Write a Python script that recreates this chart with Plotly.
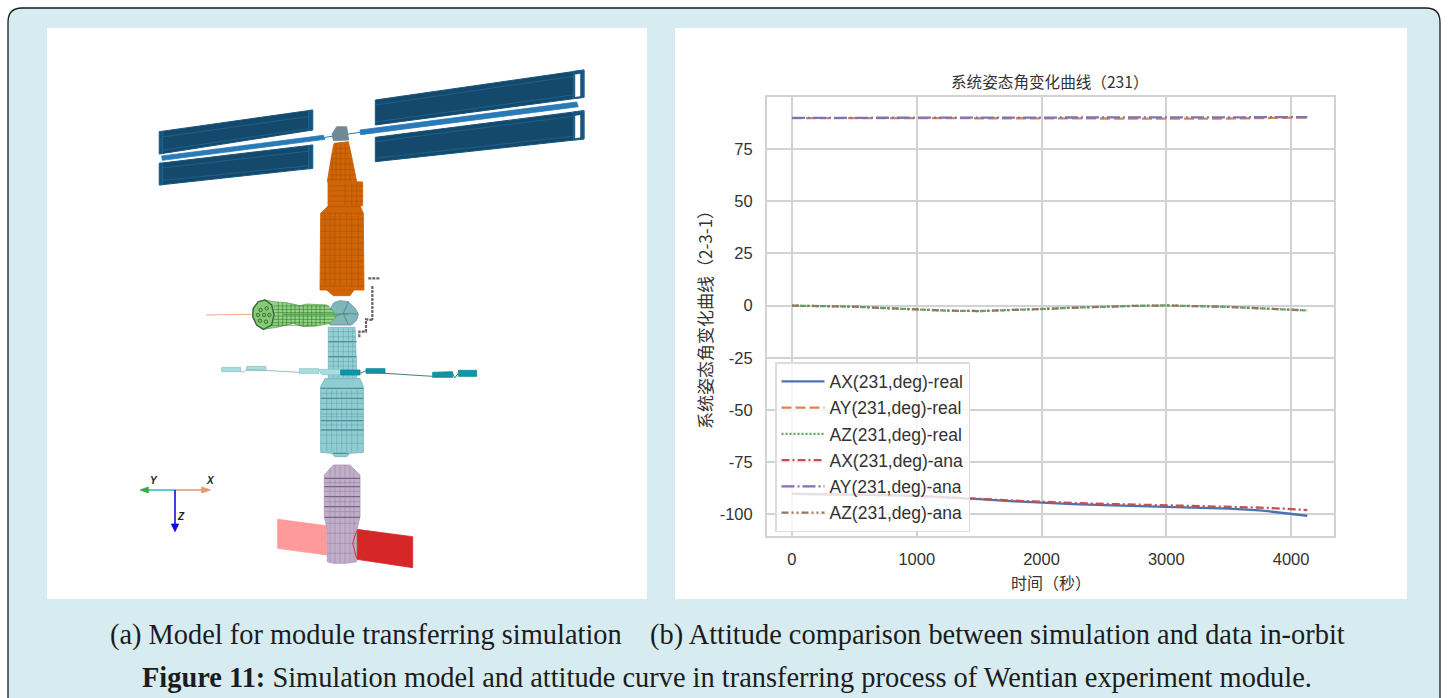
import plotly.graph_objects as go

# ---------- chart data ----------
series_names = ["AX(231,deg)-real", "AY(231,deg)-real", "AZ(231,deg)-real",
                "AX(231,deg)-ana", "AY(231,deg)-ana", "AZ(231,deg)-ana"]
time_s = [0, 250, 500, 750, 1000, 1250, 1500, 1750, 2000, 2250, 2500, 2750, 3000, 3250, 3500, 3750, 4000, 4130]
ax_real = [-90.1, -90.2, -90.4, -90.7, -91.1, -91.8, -92.6, -93.6, -94.4, -95.0, -95.5, -95.9, -96.3, -96.7, -97.2, -98.0, -99.6, -100.6]
ay_real = [89.8, 89.8, 89.9, 89.9, 90.0, 90.0, 90.0, 89.9, 89.8, 89.7, 89.6, 89.5, 89.5, 89.5, 89.6, 89.8, 90.0, 90.1]
az_real = [0.0, -0.2, -0.5, -1.2, -1.8, -2.4, -2.6, -2.2, -1.6, -1.0, -0.5, -0.1, 0.1, -0.1, -0.6, -1.3, -2.0, -2.3]
ax_ana = [-90.1, -90.2, -90.4, -90.7, -91.1, -91.7, -92.5, -93.3, -94.0, -94.5, -94.9, -95.3, -95.6, -95.9, -96.2, -96.7, -97.4, -97.9]
ay_ana = [89.9, 89.9, 90.0, 90.0, 90.1, 90.1, 90.1, 90.0, 90.0, 90.0, 90.0, 90.0, 90.0, 90.0, 90.1, 90.2, 90.3, 90.3]
az_ana = [0.0, -0.2, -0.5, -1.2, -1.8, -2.4, -2.6, -2.2, -1.6, -1.0, -0.5, -0.1, 0.1, -0.1, -0.6, -1.3, -2.0, -2.3]
series_values = [ax_real, ay_real, az_real, ax_ana, ay_ana, az_ana]
series_colors = ["#4C72B0", "#DD8452", "#55A868", "#C44E52", "#8172B3", "#937860"]
series_dashes = ["solid", "10px,4px", "2px,2px", "8px,3px,2px,3px", "13px,3px,2px,3px", "7px,3px,2px,3px,2px,3px"]
x_ticks = [0, 1000, 2000, 3000, 4000]
y_ticks = [75, 50, 25, 0, -25, -50, -75, -100]
y_tick_labels = ["75", "50", "25", "0", "-25", "-50", "-75", "-100"]
chart_title = "系统姿态角变化曲线（231）"
x_title = "时间（秒）"
y_title = "系统姿态角变化曲线（2-3-1）"
caption_1 = "(a) Model for module transferring simulation\u00a0\u00a0\u00a0\u00a0(b) Attitude comparison between simulation and data in-orbit"
caption_2 = "<b>Figure 11:</b> Simulation model and attitude curve in transferring process of Wentian experiment module."

# ---------- illustration outlines (left panel), in the two crops' coordinates ----------
A = (130, 60)   # upper crop origin
B = (130, 290)  # lower crop origin
panel_dark = [[(88,215),(548,150),(548,210),(88,282)], [(88,310),(548,255),(548,325),(88,375)],
              [(736,120),(1362,30),(1362,112),(736,195)], [(736,232),(1362,152),(1362,237),(736,305)]]
panel_lines = [[(88,232),(548,168)], [(88,272),(548,204)], [(88,325),(548,272)], [(88,362),(548,316)],
               [(736,135),(1336,48)], [(736,186),(1336,104)], [(736,245),(1336,168)], [(736,295),(1336,228)]]
panel_caps = [[(88,215),(98,214),(98,280),(88,282)], [(88,310),(98,309),(98,374),(88,375)],
              [(536,152),(548,150),(548,210),(536,212)], [(536,257),(548,255),(548,325),(536,327)],
              [(1330,34),(1362,30),(1362,112),(1330,116)], [(1330,156),(1362,152),(1362,237),(1330,240)]]
panel_slots = [[(1336,44),(1350,42),(1350,108),(1336,110)], [(1336,168),(1350,166),(1350,232),(1336,234)]]
mast = [[(95,288),(580,226),(585,238),(97,301)], [(690,210),(1340,126),(1345,140),(692,224)]]
mast_thin = [(585,232),(690,217)]
head = [(606,222),(620,200),(650,200),(656,240),(610,242)]
orange_parts = [[(612,250),(655,245),(665,290),(675,335),(680,365),(592,365),(597,330),(605,285)],
                [(594,362),(698,366),(698,437),(594,437)],
                [(595,437),(690,437),(700,460),(702,690),(570,690),(572,460)],
                [(590,690),(672,690),(660,707),(610,707)]]
orange_rows = [(265,608,660),(280,606,663),(296,603,666),(312,600,670),(328,598,673),(345,594,677),(358,592,680),
               (378,597,698),(392,597,698),(408,597,698),(424,597,698),(440,594,695),(460,572,700),(478,572,700),
               (496,572,700),(514,572,700),(532,572,700),(550,572,700),(568,572,700),(586,572,700),(604,572,700),
               (622,572,700),(640,572,700),(658,572,700),(678,570,702)]
orange_cols = [(618,250,362),(632,250,362),(646,250,362),(660,300,362),(607,290,362),(645,370,435),(665,370,435),(680,370,435),
               (585,460,680),(600,460,680),(615,460,680),(630,460,680),(650,460,680),(665,460,680),(685,460,680)]
green_body = [(370,55),(385,35),(405,30),(430,35),(470,38),(510,47),(530,42),(590,45),(610,65),(615,85),(600,100),
              (560,108),(520,110),(490,100),(440,112),(400,118),(380,105),(368,80)]
green_end = [(385,35),(405,30),(425,45),(432,75),(425,105),(400,118),(380,105),(368,80),(370,55)]
green_spots = [(392,60),(410,55),(418,75),(408,95),(390,92),(384,75),(402,75)]
green_rows = [(48,430,600),(58,432,605),(68,432,610),(78,432,612),(88,430,610),(98,428,600),(106,420,560)]
green_cols = [(445,38,110),(458,38,109),(470,40,107),(483,42,105),(495,44,103),(508,46,105),(520,46,108),(533,44,108),
              (545,46,107),(558,46,106),(570,46,104),(583,46,102)]
red_thin = [(228,75),(365,73)]
green_thin = [(460,73),(655,72)]
node = [(630,32),(655,35),(675,55),(685,72),(680,90),(665,105),(600,105),(598,60),(612,38)]
node_arcs = [[(655,35),(640,70),(655,105)], [(600,85),(640,70),(682,72)]]
teal_core = [(595,112),(675,112),(680,240),(680,265),(595,265)]
teal_body = [(585,266),(690,266),(700,290),(700,487),(660,490),(650,500),(615,500),(605,490),(572,487),(572,290)]
teal_rows = [(125,595,678),(140,595,678),(170,595,678),(185,595,678),(215,595,678),(228,595,678),
             (310,572,700),(340,572,700),(372,572,700),(380,572,700),(405,572,700),(435,572,700),(460,572,700)]
teal_cols = [(610,115,262),(625,115,262),(640,115,262),(655,115,262),(668,115,262),
             (590,300,485),(605,300,485),(620,300,485),(635,300,485),(650,300,485),(665,300,485),(682,300,485)]
teal_bands = [(155,595,680),(200,595,680),(295,572,700),(325,572,700),(358,572,700),(392,572,700),(420,572,700),(490,610,655)]
array_light = [[(275,232),(332,232),(332,245),(275,245)], [(350,229),(408,229),(408,242),(350,242)],
               [(508,236),(566,236),(566,250),(508,250)], [(566,238),(632,238),(632,254),(575,254)]]
array_light_wire = [(332,244),(340,247),(350,238),(408,242),(508,247)]
array_dark = [[(632,240),(690,240),(690,255),(632,255)], [(708,236),(765,236),(765,250),(708,250)],
              [(908,247),(968,245),(968,262),(908,262)], [(985,241),(1040,241),(1040,259),(985,259)]]
array_dark_wire = [(690,250),(708,242),(765,250),(908,259),(968,250),(974,264),(985,250)]
purple = [(610,525),(660,525),(690,555),(690,680),(680,720),(680,815),(650,820),(610,820),(592,815),(592,720),(583,680),(583,555)]
purple_rows = [(578,583,690),(604,583,690),(635,583,690),(665,584,690),(700,590,682),(730,592,680),(760,592,680),(790,592,680)]
purple_bands = [(565,583,690),(590,583,690),(620,583,690),(650,583,690),(682,584,690)]
purple_cols = [(600,535,815),(615,528,818),(630,525,818),(645,525,818),(660,530,815),(672,540,815)]
red_light = [(443,688),(590,707),(590,795),(443,775)]
red_dark = [(680,718),(848,740),(848,833),(680,808)]
red_edge = [(680,722),(668,760),(680,805)]
arm = [[(715,-35),(750,-35)], [(727,-12),(727,90)], [(727,90),(708,88),(708,125),(688,125),(688,145)]]
triad_y = [(135,600),(50,600)]
triad_x = [(135,600),(220,600)]
triad_z = [(135,600),(135,705)]
head_y = [(30,600),(55,591),(55,609)]
head_x = [(242,600),(215,591),(215,609)]
head_z = [(135,725),(124,702),(146,702)]

# ---------- layout in page pixels ----------
W, H = 1448, 698
fig = go.Figure()

def xy(points, o):
    return [o[0] + p[0] / 3 for p in points], [o[1] + p[1] / 3 for p in points]

def poly(points, o, color, line=None, lw=0.8):
    x, y = xy(points + points[:1], o)
    fig.add_trace(go.Scatter(x=x, y=y, xaxis="x2", yaxis="y2", mode="lines", fill="toself", fillcolor=color,
                             line=dict(color=line or color, width=lw), hoverinfo="skip", showlegend=False))

def path(points, o, color, lw=1.0, dash="solid"):
    x, y = xy(points, o)
    fig.add_trace(go.Scatter(x=x, y=y, xaxis="x2", yaxis="y2", mode="lines",
                             line=dict(color=color, width=lw, dash=dash), hoverinfo="skip", showlegend=False))

def mesh(rows, cols, o, color, lw=0.6):
    pts = []
    for r in rows:
        pts += [(r[1], r[0]), (r[2], r[0]), (None, None)]
    for c in cols:
        pts += [(c[0], c[1]), (c[0], c[2]), (None, None)]
    x = [None if p[0] is None else o[0] + p[0] / 3 for p in pts]
    y = [None if p[1] is None else o[1] + p[1] / 3 for p in pts]
    fig.add_trace(go.Scatter(x=x, y=y, xaxis="x2", yaxis="y2", mode="lines", line=dict(color=color, width=lw),
                             hoverinfo="skip", showlegend=False))

for p in panel_dark:
    poly(p, A, "#14496b", "#17557c", 1.0)
for p in panel_lines:
    path(p, A, "#1f6a99", 0.7)
for p in panel_caps:
    poly(p, A, "#17537a", "#1f6a99")
for p in panel_slots:
    poly(p, A, "#ffffff", "#ffffff", 0.5)
for p in mast:
    poly(p, A, "#2a7ab8")
path(mast_thin, A, "#2a7ab8", 1)
for p in orange_parts:
    poly(p, A, "#cf6506", "#c86000")
mesh(orange_rows, orange_cols, A, "rgba(150,70,0,0.55)")
poly(head, A, "#6f8a96")
path(red_thin, B, "#f4a58f", 1)
poly(teal_body, B, "#8fcdd2", "#70b0b6")
poly(teal_core, B, "#93cfd4", "#78b6bb")
mesh(teal_rows, teal_cols, B, "rgba(70,130,140,0.6)", 0.5)
mesh(teal_bands, [], B, "#4f8f97", 1.3)
poly(node, B, "#7fb5bb", "#5f9099")
for p in node_arcs:
    path(p, B, "#5a8d95", 1)
poly(green_body, B, "#90d57f", "#5fa653")
mesh(green_rows, green_cols, B, "rgba(45,90,45,0.8)", 0.6)
poly(green_end, B, "#86cc78", "#39663a", 1.4)
sx, sy = xy(green_spots, B)
fig.add_trace(go.Scatter(x=sx, y=sy, xaxis="x2", yaxis="y2", mode="markers",
                         marker=dict(size=3.5, color="#7fc570", line=dict(color="#2f5a30", width=0.8)),
                         hoverinfo="skip", showlegend=False))
path(green_thin, B, "#3b9e4a", 1)
for p in array_light:
    poly(p, B, "#a9dde0", "#8cc6ca")
path(array_light_wire, B, "#9dbcbe", 1)
for p in array_dark:
    poly(p, B, "#0c98a8", "#0b8795")
path(array_dark_wire, B, "#3a7f88", 1)
poly(red_light, B, "#ff9a9a")
poly(red_dark, B, "#d62728")
poly(purple, B, "#c2aecb", "#a898b2")
mesh(purple_rows, purple_cols, B, "rgba(110,95,125,0.6)", 0.5)
mesh(purple_bands, [], B, "#75677f", 1.2)
path(red_edge, B, "#e03030", 1)
for a in arm:
    path(a, B, "#74606a", 2.2, "3px,1px")
path(triad_y, B, "#33c4c4", 1.6)
path(triad_x, B, "#e49a78", 1.6)
path(triad_z, B, "#1010e0", 1.6)
poly(head_y, B, "#3aa84a")
poly(head_x, B, "#e49a70")
poly(head_z, B, "#0a0af0")

for name, vals, col, dash in zip(series_names, series_values, series_colors, series_dashes):
    fig.add_trace(go.Scatter(x=time_s, y=vals, mode="lines", name=name, legendgroup=name,
                             line=dict(color=col, width=2.3, dash=dash)))

def note(text, x, y, size, family, color="#333333", angle=0):
    fig.add_annotation(text=text, x=x / W, y=1 - y / H, xref="paper", yref="paper", showarrow=False,
                       xanchor="center", yanchor="middle", textangle=angle,
                       font=dict(size=size, family=family, color=color))

cjk = "Noto Sans CJK SC"
note(chart_title, 1050, 81, 15.6, cjk)
note(x_title, 1050.5, 582, 16, cjk)
note(y_title, 704, 316, 17, cjk, angle=-90)
note(caption_1, 727, 635, 28.4, "Liberation Serif", "#1c1c1c")
note(caption_2, 727, 677, 28.4, "Liberation Serif", "#1c1c1c")
note("<b><i>Y</i></b>", 153.5, 481, 10, "Liberation Sans", "#222222")
note("<b><i>X</i></b>", 210.5, 481, 10, "Liberation Sans", "#222222")
note("<b><i>Z</i></b>", 181, 516, 10, "Liberation Sans", "#222222")

shapes = [
    dict(type="path", xref="paper", yref="paper", layer="below",
         path=f"M {8/W} {1-720/H} L {8/W} {1-22/H} Q {8/W} {1-8/H} {22/W} {1-8/H} "
              f"L {1426/W} {1-8/H} Q {1440/W} {1-8/H} {1440/W} {1-22/H} L {1440/W} {1-720/H} Z",
         fillcolor="#d7ecf1", line=dict(color="#1a1a1a", width=1.3)),
    dict(type="rect", xref="paper", yref="paper", layer="below", x0=47/W, x1=647/W, y0=1-599/H, y1=1-28/H,
         fillcolor="#ffffff", line=dict(width=0)),
    dict(type="rect", xref="paper", yref="paper", layer="below", x0=675/W, x1=1407/W, y0=1-599/H, y1=1-28/H,
         fillcolor="#ffffff", line=dict(width=0)),
]

tick_font = dict(size=16.5, family="Liberation Sans", color="#333333")
fig.update_layout(
    width=W, height=H, margin=dict(l=0, r=0, t=0, b=0), paper_bgcolor="#ffffff", plot_bgcolor="rgba(0,0,0,0)",
    shapes=shapes,
    xaxis=dict(domain=[767/W, 1334/W], range=[-200, 4344], tickmode="array", tickvals=x_ticks, showgrid=True,
               gridcolor="#d2d2d2", gridwidth=1.6, zeroline=False, showline=True, linecolor="#d2d2d2", linewidth=2,
               mirror=True, ticks="", anchor="y", tickfont=tick_font, ticklabelstandoff=7),
    yaxis=dict(domain=[1-536/H, 1-97/H], range=[-110.3, 99.9], tickmode="array", tickvals=y_ticks,
               ticktext=y_tick_labels, showgrid=True, gridcolor="#d2d2d2", gridwidth=1.6, zeroline=False,
               showline=True, linecolor="#d2d2d2", linewidth=2, mirror=True, ticks="", anchor="x",
               tickfont=tick_font, ticklabelstandoff=9),
    xaxis2=dict(domain=[0, 1], range=[0, W], visible=False, anchor="y2"),
    yaxis2=dict(domain=[0, 1], range=[H, 0], visible=False, anchor="x2"),
    legend=dict(x=775/W, y=1-362/H, xanchor="left", yanchor="top", bgcolor="rgba(255,255,255,0.8)",
                bordercolor="#dcdcdc", borderwidth=1.5, traceorder="grouped", tracegroupgap=0.5, itemwidth=43,
                font=dict(size=17.5, family="Liberation Sans", color="#333333")),
    showlegend=True,
)

fig.write_html("out.html", config=dict(displayModeBar=False),
               post_script="document.body.style.margin='0';document.body.style.overflow='hidden';")
